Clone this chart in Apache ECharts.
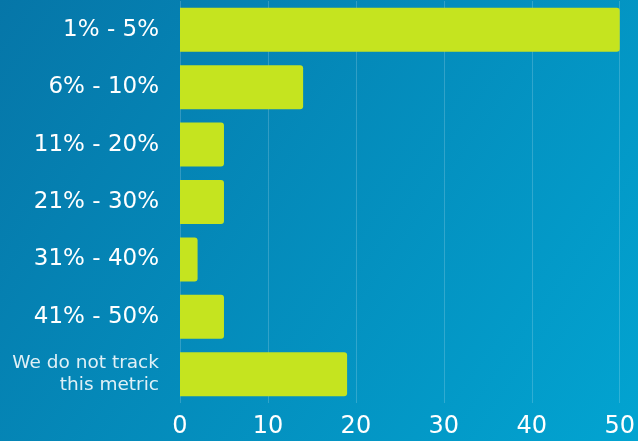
<!DOCTYPE html>
<html><head><meta charset="utf-8">
<script src="https://cdn.jsdelivr.net/npm/echarts@6/dist/echarts.min.js"></script>
<style>html,body{margin:0;padding:0;}#c{width:638px;height:441px;}</style>
</head><body><div id="c"></div>
<script>
const categories = ["1% - 5%", "6% - 10%", "11% - 20%", "21% - 30%", "31% - 40%", "41% - 50%", "We do not track\nthis metric"];
const values = [50, 14, 5, 5, 2, 5, 19];
const xTicks = [0, 10, 20, 30, 40, 50];

const chart = echarts.init(document.getElementById('c'));
chart.setOption({
  animation: false,
  backgroundColor: new echarts.graphic.LinearGradient(0, 0, 1, 1, [
    {offset: 0, color: '#0676a8'},
    {offset: 1, color: '#02a4d1'}
  ]),
  grid: {left: 180, right: 18, top: 1, bottom: 38, containLabel: false},
  xAxis: {
    type: 'value', min: xTicks[0], max: xTicks[xTicks.length-1], interval: 10,
    axisLine: {show: false}, axisTick: {show: false},
    splitLine: {show: true, lineStyle: {color: 'rgba(255,255,255,0.18)', width: 1}},
    axisLabel: {color: '#ffffff', fontFamily: 'DejaVu Sans', fontSize: 24, margin: 12}
  },
  yAxis: {
    type: 'category', data: categories, inverse: true,
    axisLine: {show: false}, axisTick: {show: false},
    axisLabel: {
      margin: 21,
      formatter: function (v, i) { return i === categories.length - 1 ? '{s|' + v.replace('\n', '}\n{s|') + '}' : '{b|' + v + '}'; },
      rich: {
        b: {color: '#ffffff', fontFamily: 'DejaVu Sans', fontSize: 23, align: 'right'},
        s: {color: 'rgba(255,255,255,0.88)', fontFamily: 'DejaVu Sans', fontSize: 18.5, lineHeight: 22, align: 'right'}
      }
    }
  },
  series: [{
    type: 'bar', data: values, barWidth: 44,
    itemStyle: {color: '#c5e41f', borderRadius: [0, 3, 3, 0]}
  }]
});
</script></body></html>
